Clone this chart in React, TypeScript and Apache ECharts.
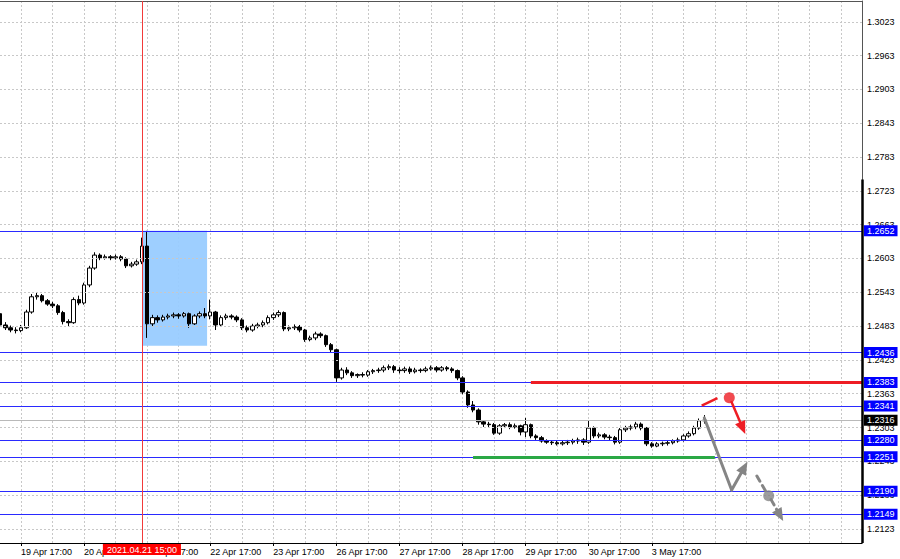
import React, { useEffect, useRef } from "react";
import * as echarts from "echarts";

// ---- time axis (2-hour slots, weekends skipped) ----
const DAYS = ["19 Apr", "20 Apr", "21 Apr", "22 Apr", "23 Apr", "26 Apr", "27 Apr", "28 Apr", "29 Apr", "30 Apr", "3 May", "4 May", "5 May", "6 May", "7 May", "10 May"];
const FIRST_HOUR = 9; // first slot = 19 Apr 09:00
const SLOT_HOURS = 2;
const SLOT_COUNT = 165;
const LABEL_FIRST = 4; // 19 Apr 17:00
const LABEL_STEP = 12; // one label per day
const GRID_STEP = 6; // a grid line every 12 hours

// ---- price axis ----
const Y_MIN = 1.2098;
const Y_MAX = 1.306;
const Y_TICKS = [1.2123, 1.2183, 1.2243, 1.2303, 1.2363, 1.2423, 1.2483, 1.2543, 1.2603, 1.2663, 1.2723, 1.2783, 1.2843, 1.2903, 1.2963, 1.3023];
const SCALE_BAR_TOP = 1.2743; // price where the heavy part of the price-scale border starts

// ---- candles [open, close, low, high] ----
const CANDLES: number[][] = [
  [1.2505, 1.2485, 1.248, 1.2509], [1.2485, 1.248, 1.2476, 1.249], [1.248, 1.2476, 1.2472, 1.2484], [1.2476, 1.2475, 1.247, 1.2481],
  [1.2475, 1.248, 1.2472, 1.2485], [1.248, 1.2508, 1.2478, 1.2512], [1.2508, 1.2535, 1.2505, 1.254], [1.2535, 1.2537, 1.253, 1.2543],
  [1.2537, 1.2528, 1.2525, 1.254], [1.2528, 1.2522, 1.2519, 1.2531], [1.2522, 1.2519, 1.2515, 1.2526], [1.2519, 1.2507, 1.2503, 1.2522],
  [1.2507, 1.2491, 1.2486, 1.251], [1.2491, 1.2489, 1.2483, 1.2495], [1.2489, 1.253, 1.2487, 1.2534], [1.253, 1.2524, 1.252, 1.2537],
  [1.2524, 1.2556, 1.2521, 1.256], [1.2556, 1.2586, 1.2552, 1.259], [1.2586, 1.2609, 1.2583, 1.2614], [1.2609, 1.2604, 1.26, 1.2612],
  [1.2604, 1.2606, 1.2601, 1.261], [1.2606, 1.2604, 1.26, 1.2609], [1.2604, 1.2606, 1.2601, 1.261], [1.2606, 1.2602, 1.2598, 1.2609],
  [1.2602, 1.259, 1.2586, 1.2605], [1.259, 1.2593, 1.2587, 1.2597], [1.2593, 1.2597, 1.259, 1.2601], [1.2597, 1.2625, 1.2593, 1.264],
  [1.2625, 1.2487, 1.2462, 1.2652], [1.2487, 1.2498, 1.2482, 1.2503], [1.2498, 1.2494, 1.2489, 1.2502], [1.2494, 1.2499, 1.2491, 1.2503],
  [1.2499, 1.2501, 1.2495, 1.2505], [1.2501, 1.2503, 1.2497, 1.2507], [1.2503, 1.2501, 1.2496, 1.2506], [1.2501, 1.2505, 1.2498, 1.2508],
  [1.2505, 1.2487, 1.248, 1.2507], [1.2487, 1.2501, 1.2485, 1.2504], [1.2501, 1.2505, 1.2497, 1.2509], [1.2505, 1.2501, 1.2497, 1.2515],
  [1.2501, 1.2508, 1.2495, 1.253], [1.2508, 1.2485, 1.2476, 1.251], [1.2485, 1.2498, 1.2482, 1.2502], [1.2498, 1.2501, 1.2494, 1.2505],
  [1.2501, 1.2499, 1.2495, 1.2504], [1.2499, 1.2494, 1.249, 1.2502], [1.2494, 1.248, 1.2476, 1.2497], [1.248, 1.2476, 1.2472, 1.2484],
  [1.2476, 1.2483, 1.2473, 1.2487], [1.2483, 1.2485, 1.2479, 1.2489], [1.2485, 1.2489, 1.2481, 1.2493], [1.2489, 1.2498, 1.2486, 1.2502],
  [1.2498, 1.2503, 1.2494, 1.2507], [1.2503, 1.2507, 1.2499, 1.2511], [1.2507, 1.2478, 1.2474, 1.2509], [1.2478, 1.248, 1.2474, 1.2484],
  [1.248, 1.2482, 1.2476, 1.2486], [1.2482, 1.2476, 1.2472, 1.2485], [1.2476, 1.2459, 1.2455, 1.2478], [1.2459, 1.2462, 1.2456, 1.2466],
  [1.2462, 1.2469, 1.2458, 1.2473], [1.2469, 1.2466, 1.2462, 1.2472], [1.2466, 1.245, 1.2446, 1.2468], [1.245, 1.2441, 1.2436, 1.2453],
  [1.2441, 1.2391, 1.2384, 1.2443], [1.2391, 1.2405, 1.2388, 1.2409], [1.2405, 1.24, 1.2396, 1.241], [1.24, 1.2395, 1.2391, 1.2403],
  [1.2395, 1.2397, 1.2391, 1.2399], [1.2397, 1.2396, 1.2392, 1.2401], [1.2396, 1.2402, 1.2393, 1.2405], [1.2402, 1.2404, 1.2398, 1.2407],
  [1.2404, 1.2405, 1.24, 1.2409], [1.2405, 1.2409, 1.2401, 1.2413], [1.2409, 1.2411, 1.2405, 1.2415], [1.2411, 1.2405, 1.24, 1.2414],
  [1.2405, 1.2404, 1.2399, 1.241], [1.2404, 1.2407, 1.24, 1.2411], [1.2407, 1.2402, 1.2398, 1.2411], [1.2402, 1.2405, 1.2399, 1.2409],
  [1.2405, 1.2404, 1.24, 1.2408], [1.2404, 1.2407, 1.2401, 1.2411], [1.2407, 1.2409, 1.2404, 1.2413], [1.2409, 1.2405, 1.2401, 1.2412],
  [1.2405, 1.2409, 1.2402, 1.2412], [1.2409, 1.2407, 1.2403, 1.2412], [1.2407, 1.2404, 1.24, 1.241], [1.2404, 1.2391, 1.2387, 1.2406],
  [1.2391, 1.2366, 1.2362, 1.2394], [1.2366, 1.2343, 1.2338, 1.2369], [1.2343, 1.2334, 1.233, 1.235], [1.2334, 1.2313, 1.2308, 1.2337],
  [1.2313, 1.2309, 1.2304, 1.2316], [1.2309, 1.2308, 1.2303, 1.2313], [1.2308, 1.2293, 1.229, 1.2311], [1.2293, 1.2306, 1.229, 1.2309],
  [1.2306, 1.2308, 1.2302, 1.2311], [1.2308, 1.2304, 1.23, 1.2312], [1.2304, 1.2306, 1.2301, 1.231], [1.2306, 1.2295, 1.2289, 1.2308],
  [1.2295, 1.2308, 1.2286, 1.232], [1.2308, 1.2288, 1.2284, 1.231], [1.2288, 1.2285, 1.2281, 1.2291], [1.2285, 1.2279, 1.2276, 1.2288],
  [1.2279, 1.2277, 1.2274, 1.2282], [1.2277, 1.2276, 1.2272, 1.228], [1.2276, 1.2274, 1.2271, 1.2279], [1.2274, 1.2276, 1.2271, 1.228],
  [1.2276, 1.2277, 1.2272, 1.2281], [1.2277, 1.2279, 1.2273, 1.2283], [1.2279, 1.2281, 1.2274, 1.2285], [1.2281, 1.2277, 1.2272, 1.2284],
  [1.2277, 1.2302, 1.2274, 1.2316], [1.2302, 1.2288, 1.2284, 1.2305], [1.2288, 1.229, 1.2284, 1.2294], [1.229, 1.2286, 1.2282, 1.2293],
  [1.2286, 1.2285, 1.228, 1.229], [1.2285, 1.2277, 1.2273, 1.2288], [1.2277, 1.2299, 1.2274, 1.2302], [1.2299, 1.2302, 1.2295, 1.2306],
  [1.2302, 1.2304, 1.2298, 1.2308], [1.2304, 1.2309, 1.23, 1.2313], [1.2309, 1.2302, 1.2298, 1.2312], [1.2302, 1.2274, 1.227, 1.2304],
  [1.2274, 1.227, 1.2267, 1.2277], [1.227, 1.2274, 1.2268, 1.2277], [1.2274, 1.2275, 1.227, 1.2278], [1.2275, 1.2276, 1.2271, 1.2279],
  [1.2276, 1.2279, 1.2273, 1.2282], [1.2279, 1.2281, 1.2276, 1.2285], [1.2281, 1.2288, 1.2278, 1.2291], [1.2288, 1.2292, 1.2285, 1.2296],
  [1.2292, 1.2302, 1.2289, 1.2306], [1.2302, 1.2315, 1.2299, 1.2319], [1.2315, 1.2316, 1.231, 1.2325],
];

// ---- annotations ----
const LEVELS = [1.2652, 1.2436, 1.2383, 1.2341, 1.228, 1.2251, 1.219, 1.2149];
const CURRENT_PRICE = 1.2316;
const EVENT_SLOT = 27;
const EVENT_LABEL = "2021.04.21 15:00";
const BOX_X = [27.2, 39.4];
const BOX_Y = [1.2652, 1.2448];
const RED_LEVEL = [101, 164, 1.2383]; // from slot, to slot, price
const GREEN_LEVEL = [90, 136, 1.2251];
const RED_SEGMENT = [[133.5, 1.2342], [136.5, 1.2355]];
const RED_DOT = [138.75, 1.2356];
const RED_ARROW = [[139.1, 1.235], [141.3, 1.2302]];
const GRAY_PATH = [[134, 1.232], [139.2, 1.2192], [141.6, 1.2232]];
const GRAY_DASH = [[144.0, 1.2217], [145.8, 1.2188]];
const GRAY_DOT = [146.25, 1.2182];
const GRAY_DASH_ARROW = [[146.7, 1.2175], [148.4, 1.2147]];

const pad = (n: number) => (n < 10 ? "0" + n : "" + n);
const CATEGORIES = Array.from({ length: SLOT_COUNT }, (_, i) => {
  const h = FIRST_HOUR + SLOT_HOURS * i;
  return `${DAYS[Math.floor(h / 24)]} ${pad(h % 24)}:00`;
});

const FONT = "Liberation Sans, Arial, sans-serif";
const BLUE = "#2a2aff";
const RED = "#ee1d24";
const GRAY = "#858585";

export default function App() {
  const ref = useRef<HTMLDivElement>(null);
  useEffect(() => {
    if (!ref.current) return;
    const chart = echarts.init(ref.current, undefined, { renderer: "svg" });
    const lastBar = CANDLES.length - 1;
    const isLabelSlot = (i: number) => i >= LABEL_FIRST && i <= lastBar && (i - LABEL_FIRST) % LABEL_STEP === 0;
    const isGridSlot = (i: number) => (i - LABEL_FIRST) % GRID_STEP === 0;
    const seg = (pts: number[][], extra: any = {}, arrow = false) => [
      { coord: pts[0], ...extra },
      { coord: pts[1], symbol: arrow ? "triangle" : "none" },
    ];

    chart.setOption({
      animation: false,
      backgroundColor: "#ffffff",
      textStyle: { fontFamily: FONT },
      grid: { left: 0, right: 38, top: 1, bottom: 16, containLabel: false },
      xAxis: [
        {
          type: "category",
          data: CATEGORIES,
          boundaryGap: false,
          position: "bottom",
          axisLine: { onZero: false, lineStyle: { color: "#000", width: 1 } },
          axisTick: { show: true, interval: isLabelSlot, length: 3, lineStyle: { color: "#000" } },
          axisLabel: { interval: isLabelSlot, align: "left", color: "#000", fontSize: 9, margin: 4, fontFamily: FONT },
          splitLine: { show: true, interval: isGridSlot, lineStyle: { color: "#c8c8c8", type: [2, 2], width: 1 } },
        },
        {
          type: "value",
          position: "top",
          min: 0,
          max: SLOT_COUNT - 1,
          axisLine: { show: true, onZero: false, lineStyle: { color: "#555", width: 1 } },
          axisTick: { show: false },
          axisLabel: { show: false },
          splitLine: { show: false },
        },
      ],
      yAxis: {
        type: "value",
        position: "right",
        min: Y_MIN,
        max: Y_MAX,
        interval: 0.0005,
        axisLine: { show: true, onZero: false, lineStyle: { color: "#555", width: 1 } },
        axisTick: { show: false },
        splitLine: { show: false },
        axisLabel: {
          color: "#000",
          fontSize: 9,
          margin: 5,
          fontFamily: FONT,
          formatter: (v: number) => (Y_TICKS.some((t) => Math.abs(t - v) < 1e-7) ? v.toFixed(4) : ""),
        },
      },
      series: [
        {
          name: "grid",
          type: "line",
          xAxisIndex: 1,
          data: [],
          silent: true,
          z: 1,
          markLine: {
            silent: true,
            precision: 4,
            symbol: ["none", "none"],
            label: { show: false },
            lineStyle: { color: "#c8c8c8", type: [2, 2], width: 1 },
            data: Y_TICKS.map((v) => ({ yAxis: v })),
          },
        },
        {
          name: "box",
          type: "line",
          xAxisIndex: 1,
          data: [],
          silent: true,
          z: 1,
          markArea: {
            silent: true,
            itemStyle: { color: "#99ccff", opacity: 0.95 },
            data: [[{ xAxis: BOX_X[0], yAxis: BOX_Y[0] }, { xAxis: BOX_X[1], yAxis: BOX_Y[1] }]],
          },
        },
        {
          name: "EURUSD",
          type: "candlestick",
          data: CANDLES,
          barWidth: 4,
          z: 3,
          itemStyle: { color: "#ffffff", color0: "#000000", borderColor: "#000000", borderColor0: "#000000", borderWidth: 1 },
        },
        {
          name: "levels",
          type: "line",
          xAxisIndex: 1,
          data: [],
          clip: false,
          z: 4,
          markLine: {
            silent: true,
            precision: 4,
            symbol: ["none", "none"],
            lineStyle: { color: BLUE, type: "solid", width: 1 },
            label: {
              show: true,
              position: "end",
              distance: 2,
              color: "#fff",
              backgroundColor: "#0000ff",
              padding: [1, 3, 0, 3],
              fontSize: 9,
              lineHeight: 10,
              fontFamily: FONT,
            },
            data: [
              ...LEVELS.map((v) => ({ yAxis: v, label: { formatter: v.toFixed(4) } })),
              {
                yAxis: CURRENT_PRICE,
                lineStyle: { color: "#b9b9b9", width: 1 },
                label: { formatter: CURRENT_PRICE.toFixed(4), backgroundColor: "#000" },
              },
            ],
          },
        },
        {
          name: "event",
          type: "line",
          xAxisIndex: 1,
          data: [],
          clip: false,
          z: 4,
          markLine: {
            silent: true,
            precision: 4,
            symbol: ["none", "none"],
            lineStyle: { color: "#f23a3a", type: "solid", width: 1 },
            label: {
              show: true,
              position: "start",
              distance: 1,
              formatter: EVENT_LABEL,
              color: "#fff",
              backgroundColor: "#ff0000",
              padding: [1, 4, 0, 4],
              fontSize: 9,
              lineHeight: 10,
              fontFamily: FONT,
            },
            data: [{ xAxis: EVENT_SLOT }],
          },
        },
        {
          name: "zones",
          type: "line",
          xAxisIndex: 1,
          data: [],
          clip: false,
          z: 5,
          markLine: {
            silent: true,
            precision: 4,
            symbol: ["none", "none"],
            label: { show: false },
            data: [
              [
                { coord: [RED_LEVEL[0], RED_LEVEL[2]], lineStyle: { color: RED, width: 3, type: "solid" } },
                { coord: [RED_LEVEL[1], RED_LEVEL[2]] },
              ],
              [
                { coord: [GREEN_LEVEL[0], GREEN_LEVEL[2]], lineStyle: { color: "#2aa845", width: 3, type: "solid" } },
                { coord: [GREEN_LEVEL[1], GREEN_LEVEL[2]] },
              ],
              [
                { coord: [SLOT_COUNT - 1, SCALE_BAR_TOP], lineStyle: { color: "#000", width: 2.5, type: "solid" } },
                { coord: [SLOT_COUNT - 1, Y_MIN] },
              ],
            ],
          },
        },
        {
          name: "red scenario",
          type: "scatter",
          xAxisIndex: 1,
          data: [RED_DOT],
          symbolSize: 11,
          itemStyle: { color: RED },
          clip: false,
          z: 6,
          markLine: {
            silent: true,
            precision: 4,
            symbol: ["none", "none"],
            symbolSize: [11, 13],
            label: { show: false },
            lineStyle: { color: RED, width: 2.5, type: "solid" },
            data: [seg(RED_SEGMENT), seg(RED_ARROW, {}, true)],
          },
        },
        {
          name: "gray scenario",
          type: "scatter",
          xAxisIndex: 1,
          data: [GRAY_DOT],
          symbolSize: 11,
          itemStyle: { color: GRAY },
          clip: false,
          z: 6,
          markLine: {
            silent: true,
            precision: 4,
            symbol: ["none", "none"],
            symbolSize: [11, 13],
            label: { show: false },
            lineStyle: { color: GRAY, width: 3, type: "solid", cap: "round" },
            data: [
              seg([GRAY_PATH[0], GRAY_PATH[1]]),
              seg([GRAY_PATH[1], GRAY_PATH[2]], {}, true),
              seg(GRAY_DASH, { lineStyle: { color: GRAY, width: 3, type: [6, 5] } }),
              seg(GRAY_DASH_ARROW, { lineStyle: { color: GRAY, width: 3, type: [6, 5] } }, true),
            ],
          },
        },
      ],
    });
    return () => chart.dispose();
  }, []);

  return (
    <div
      ref={ref}
      style={{ position: "fixed", left: 0, top: 0, width: 900, height: 559, background: "#fff" }}
    />
  );
}
